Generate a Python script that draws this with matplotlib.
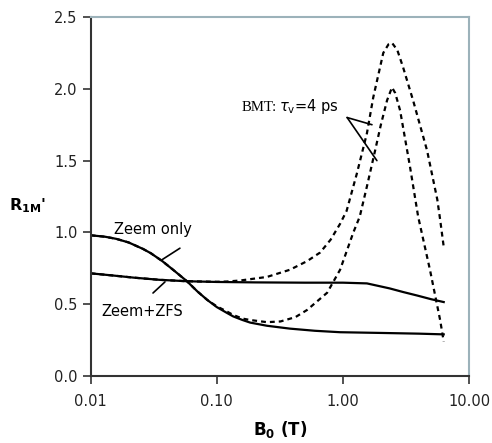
import numpy as np
import matplotlib
matplotlib.use('Agg')
import matplotlib.pyplot as plt

# B0 (T) and R1M' values
b_zeem = [0.01, 0.013, 0.016, 0.02, 0.026, 0.03, 0.037, 0.045, 0.058, 0.07, 0.084, 0.1,
          0.12, 0.135, 0.16, 0.184, 0.25, 0.38, 0.6, 0.95, 2.0, 4.0, 6.3]
r_zeem = [0.98, 0.97, 0.955, 0.93, 0.885, 0.855, 0.80, 0.74, 0.66, 0.59, 0.53, 0.48,
          0.44, 0.415, 0.39, 0.372, 0.35, 0.33, 0.315, 0.305, 0.30, 0.295, 0.29]

b_zfs = [0.01, 0.015, 0.022, 0.035, 0.058, 0.1, 0.2, 0.5, 1.0, 1.55, 2.35, 3.0,
         3.9, 5.0, 6.3]
r_zfs = [0.715, 0.70, 0.685, 0.67, 0.66, 0.655, 0.652, 0.65, 0.65, 0.645, 0.61,
         0.585, 0.56, 0.535, 0.515]

b_bmt_zfs = [0.01, 0.015, 0.022, 0.035, 0.058, 0.1, 0.12, 0.153, 0.25, 0.38, 0.52,
             0.66, 0.8, 0.95, 1.07, 1.29, 1.55, 1.74, 1.97, 2.09, 2.3, 2.45, 2.7,
             3.0, 3.6, 4.65, 5.6, 5.9, 6.3]
r_bmt_zfs = [0.715, 0.70, 0.685, 0.67, 0.66, 0.656, 0.658, 0.665, 0.69, 0.74, 0.80,
             0.86, 0.95, 1.06, 1.15, 1.41, 1.69, 1.94, 2.15, 2.25, 2.31, 2.32, 2.27,
             2.15, 1.92, 1.57, 1.23, 1.09, 0.90]

b_bmt_zeem = [0.01, 0.013, 0.016, 0.02, 0.026, 0.03, 0.037, 0.045, 0.058, 0.07, 0.084,
              0.1, 0.12, 0.135, 0.16, 0.184, 0.25, 0.32, 0.42, 0.52, 0.75, 0.95, 1.21,
              1.36, 1.55, 1.8, 2.0, 2.24, 2.45, 2.6, 2.84, 3.4, 3.95, 4.9, 5.9, 6.3]
r_bmt_zeem = [0.98, 0.97, 0.955, 0.93, 0.885, 0.855, 0.80, 0.74, 0.66, 0.59, 0.53,
              0.485, 0.45, 0.425, 0.40, 0.39, 0.375, 0.38, 0.41, 0.46, 0.58, 0.74, 1.00,
              1.11, 1.32, 1.57, 1.75, 1.92, 2.01, 1.97, 1.85, 1.46, 1.11, 0.74, 0.39, 0.24]

x_ticks = [0.01, 0.1, 1, 10]
x_labels = ['0.01', '0.10', '1.00', '10.00']
y_ticks = [0.0, 0.5, 1.0, 1.5, 2.0, 2.5]

plt.rcParams['mathtext.fontset'] = 'dejavusans'

fig = plt.figure(figsize=(4.92, 4.43), dpi=100)
ax = fig.add_axes([0.1843, 0.1512, 0.7690, 0.8104])

dash = (0, (2.2, 1.8))
ax.plot(b_zeem, r_zeem, color='black', lw=1.6)
ax.plot(b_zfs, r_zfs, color='black', lw=1.6)
ax.plot(b_bmt_zfs, r_bmt_zfs, color='black', lw=1.6, linestyle=dash)
ax.plot(b_bmt_zeem, r_bmt_zeem, color='black', lw=1.6, linestyle=dash)

ax.set_xscale('log')
ax.set_xlim(0.01, 10)
ax.set_ylim(0, 2.5)
ax.set_xticks(x_ticks)
ax.set_xticklabels(x_labels)
ax.set_yticks(y_ticks)
ax.set_yticklabels([f'{v:.1f}' for v in y_ticks])
ax.minorticks_off()

ax.tick_params(axis='both', direction='out', length=6, width=1.2, color='#333333',
               labelsize=10.5, labelcolor='#222222')
ax.tick_params(axis='x', pad=7)
ax.tick_params(axis='y', pad=3.5)

for side in ['left', 'bottom']:
    ax.spines[side].set_color('#333333')
    ax.spines[side].set_linewidth(1.5)
for side in ['top', 'right']:
    ax.spines[side].set_color('#9cb2ba')
    ax.spines[side].set_linewidth(1.5)

ax.set_xlabel(r'$\mathbf{B_0}$ (T)', fontsize=12, fontweight='bold', labelpad=7)
ax.text(-0.215, 0.475, r"$\mathbf{R_{1M}}$'", transform=ax.transAxes,
        fontsize=11.5, fontweight='bold', ha='left', va='center')

# annotations
ax.text(0.0153, 1.02, 'Zeem only', fontsize=10.5, ha='left', va='center')
ax.annotate('', xy=(0.0368, 0.81), xytext=(0.051, 0.89),
            arrowprops=dict(arrowstyle='-', color='black', lw=1.2, shrinkA=0, shrinkB=0))
ax.text(0.0121, 0.45, 'Zeem+ZFS', fontsize=10.5, ha='left', va='center')
ax.annotate('', xy=(0.0388, 0.655), xytext=(0.0312, 0.578),
            arrowprops=dict(arrowstyle='-', color='black', lw=1.2, shrinkA=0, shrinkB=0))

ax.text(0.158, 1.845, 'BMT:', fontsize=10.6, family='Liberation Serif', ha='left',
        va='baseline')
ax.text(0.31, 1.845, r'$\tau_{\rm v}$=4 ps', fontsize=10.5, ha='left', va='baseline')
ax.annotate('', xy=(1.70, 1.75), xytext=(1.08, 1.80),
            arrowprops=dict(arrowstyle='-', color='black', lw=1.2, shrinkA=0, shrinkB=0))
ax.annotate('', xy=(1.86, 1.50), xytext=(1.08, 1.80),
            arrowprops=dict(arrowstyle='-', color='black', lw=1.2, shrinkA=0, shrinkB=0))

fig.savefig('out.png', dpi=100)
